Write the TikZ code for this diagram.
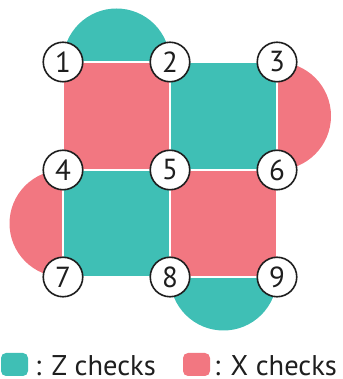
\documentclass[tikz,border=0pt]{standalone}
\usepackage{fontspec}
\setmainfont{PT Sans}
\definecolor{zteal}{RGB}{63,191,181}
\definecolor{xred}{RGB}{242,119,129}
\definecolor{ink}{RGB}{30,30,30}
\begin{document}
\begin{tikzpicture}[x=1pt,y=1pt,
  qubit/.style={circle,draw=ink,line width=1.6pt,fill=white,minimum size=39.5pt,inner sep=0pt,font=\fontsize{29}{29}\selectfont,text=ink},
  plaq/.style={draw=white,line width=1.5pt},
  legbox/.style={rounded corners=5pt,minimum width=27pt,minimum height=23pt,inner sep=0pt},
  legtext/.style={anchor=base west,inner sep=0pt,font=\fontsize{28.5}{28.5}\selectfont,text=ink}]
\useasboundingbox (0,0) rectangle (342,379);
% qubit positions
\coordinate (p1) at (63,317);
\coordinate (p2) at (170,317);
\coordinate (p3) at (277,317);
\coordinate (p4) at (63,209);
\coordinate (p5) at (170,209);
\coordinate (p6) at (277,209);
\coordinate (p7) at (63,102);
\coordinate (p8) at (170,102);
\coordinate (p9) at (277,102);
% boundary semicircles
\fill[zteal] (p2) arc[start angle=0,end angle=180,radius=53.5] -- cycle;
\fill[xred] (p3) arc[start angle=90,end angle=-90,radius=54] -- cycle;
\fill[xred] (p4) arc[start angle=90,end angle=270,radius=53.5] -- cycle;
\fill[zteal] (p8) arc[start angle=180,end angle=360,radius=53.5] -- cycle;
% plaquettes
\filldraw[plaq,fill=xred] (p1) rectangle (p5);
\filldraw[plaq,fill=zteal] (p2) rectangle (p6);
\filldraw[plaq,fill=zteal] (p4) rectangle (p8);
\filldraw[plaq,fill=xred] (p5) rectangle (p9);
% qubits
\foreach \i in {1,...,9} \node[qubit] (q\i) at (p\i) {\i};
% legend
\node[legbox,fill=zteal] (lz) at (14.5,14.5) {};
\node[legtext] (tz) at (35,4) {: Z checks};
\node[legbox,fill=xred] (lx) at (196.5,14.5) {};
\node[legtext] (tx) at (214,4) {: X checks};
\end{tikzpicture}
\end{document}
